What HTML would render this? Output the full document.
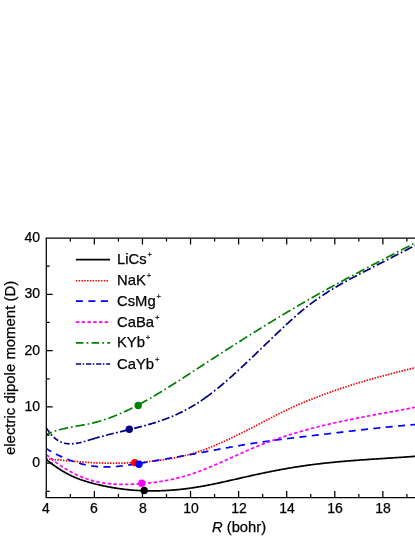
<!DOCTYPE html><html><head><meta charset="utf-8"><title>plot</title><style>
html,body{margin:0;padding:0;background:#fff;}
body{width:415px;height:537px;position:relative;overflow:hidden;font-family:"Liberation Sans",sans-serif;color:#000;}
.t{position:absolute;white-space:nowrap;line-height:1;will-change:transform;-webkit-text-stroke:0.25px #000;}
.yl{font-size:14px;text-align:right;width:30px;}
.xl{font-size:14px;text-align:center;width:30px;}
.lg{font-size:14.8px;}
.lg sup{font-size:7.6px;vertical-align:baseline;position:relative;top:-7.2px;left:0.9px;line-height:0;}
</style></head><body>
<svg width="415" height="537" viewBox="0 0 415 537" style="position:absolute;left:0;top:0">
<defs><clipPath id="c"><rect x="45.70" y="238.00" width="378.70" height="259.50"/></clipPath></defs>
<g clip-path="url(#c)" fill="none" stroke-width="1.70" stroke-linejoin="round">
<path d="M46.30 459.60 L47.30 460.40 L48.30 461.18 L49.30 461.96 L50.30 462.72 L51.30 463.47 L52.30 464.21 L53.30 464.94 L54.30 465.66 L55.30 466.36 L56.30 467.05 L57.30 467.73 L58.30 468.39 L59.30 469.04 L60.30 469.68 L61.30 470.31 L62.30 470.92 L63.30 471.52 L64.30 472.10 L65.30 472.67 L66.30 473.23 L67.30 473.77 L68.30 474.29 L69.30 474.81 L70.30 475.30 L71.30 475.78 L72.30 476.25 L73.30 476.70 L74.30 477.14 L75.30 477.56 L76.30 477.97 L77.30 478.37 L78.30 478.76 L79.30 479.14 L80.30 479.50 L81.30 479.86 L82.30 480.20 L83.30 480.53 L84.30 480.86 L85.30 481.18 L86.30 481.48 L87.30 481.79 L88.30 482.08 L89.30 482.37 L90.30 482.65 L91.30 482.92 L92.30 483.19 L93.30 483.45 L94.30 483.71 L95.30 483.97 L96.30 484.22 L97.30 484.46 L98.30 484.70 L99.30 484.94 L100.30 485.17 L101.30 485.39 L102.30 485.61 L103.30 485.83 L104.30 486.04 L105.30 486.25 L106.30 486.45 L107.30 486.64 L108.30 486.84 L109.30 487.02 L110.30 487.21 L111.30 487.39 L112.30 487.56 L113.30 487.73 L114.30 487.89 L115.30 488.05 L116.30 488.21 L117.30 488.36 L118.30 488.51 L119.30 488.65 L120.30 488.78 L121.30 488.92 L122.30 489.05 L123.30 489.17 L124.30 489.29 L125.30 489.40 L126.30 489.52 L127.30 489.62 L128.30 489.72 L129.30 489.82 L130.30 489.91 L131.30 490.00 L132.30 490.09 L133.30 490.17 L134.30 490.24 L135.30 490.32 L136.30 490.38 L137.30 490.45 L138.30 490.51 L139.30 490.56 L140.30 490.61 L141.30 490.66 L142.30 490.70 L143.30 490.74 L144.30 490.77 L145.30 490.80 L146.30 490.83 L147.30 490.85 L148.30 490.87 L149.30 490.88 L150.30 490.89 L151.30 490.90 L152.30 490.90 L153.30 490.90 L154.30 490.89 L155.30 490.88 L156.30 490.87 L157.30 490.85 L158.30 490.83 L159.30 490.80 L160.30 490.77 L161.30 490.74 L162.30 490.70 L163.30 490.66 L164.30 490.61 L165.30 490.56 L166.30 490.51 L167.30 490.46 L168.30 490.40 L169.30 490.33 L170.30 490.26 L171.30 490.19 L172.30 490.12 L173.30 490.04 L174.30 489.96 L175.30 489.87 L176.30 489.78 L177.30 489.69 L178.30 489.59 L179.30 489.49 L180.30 489.39 L181.30 489.28 L182.30 489.17 L183.30 489.05 L184.30 488.93 L185.30 488.81 L186.30 488.69 L187.30 488.56 L188.30 488.43 L189.30 488.29 L190.30 488.15 L191.30 488.01 L192.30 487.86 L193.30 487.71 L194.30 487.56 L195.30 487.41 L196.30 487.25 L197.30 487.08 L198.30 486.92 L199.30 486.75 L200.30 486.58 L201.30 486.40 L202.30 486.23 L203.30 486.05 L204.30 485.86 L205.30 485.68 L206.30 485.49 L207.30 485.30 L208.30 485.11 L209.30 484.91 L210.30 484.71 L211.30 484.52 L212.30 484.31 L213.30 484.11 L214.30 483.90 L215.30 483.70 L216.30 483.49 L217.30 483.28 L218.30 483.06 L219.30 482.85 L220.30 482.63 L221.30 482.42 L222.30 482.20 L223.30 481.98 L224.30 481.76 L225.30 481.54 L226.30 481.31 L227.30 481.09 L228.30 480.87 L229.30 480.64 L230.30 480.41 L231.30 480.19 L232.30 479.96 L233.30 479.73 L234.30 479.50 L235.30 479.28 L236.30 479.05 L237.30 478.82 L238.30 478.59 L239.30 478.36 L240.30 478.13 L241.30 477.90 L242.30 477.67 L243.30 477.44 L244.30 477.22 L245.30 476.99 L246.30 476.76 L247.30 476.53 L248.30 476.31 L249.30 476.08 L250.30 475.86 L251.30 475.64 L252.30 475.41 L253.30 475.19 L254.30 474.97 L255.30 474.75 L256.30 474.53 L257.30 474.32 L258.30 474.10 L259.30 473.89 L260.30 473.67 L261.30 473.46 L262.30 473.25 L263.30 473.04 L264.30 472.84 L265.30 472.63 L266.30 472.42 L267.30 472.22 L268.30 472.02 L269.30 471.82 L270.30 471.62 L271.30 471.42 L272.30 471.22 L273.30 471.03 L274.30 470.84 L275.30 470.64 L276.30 470.45 L277.30 470.26 L278.30 470.08 L279.30 469.89 L280.30 469.70 L281.30 469.52 L282.30 469.34 L283.30 469.16 L284.30 468.98 L285.30 468.80 L286.30 468.63 L287.30 468.45 L288.30 468.28 L289.30 468.11 L290.30 467.94 L291.30 467.77 L292.30 467.61 L293.30 467.44 L294.30 467.28 L295.30 467.12 L296.30 466.96 L297.30 466.80 L298.30 466.65 L299.30 466.49 L300.30 466.34 L301.30 466.19 L302.30 466.04 L303.30 465.90 L304.30 465.75 L305.30 465.61 L306.30 465.46 L307.30 465.32 L308.30 465.19 L309.30 465.05 L310.30 464.92 L311.30 464.78 L312.30 464.65 L313.30 464.52 L314.30 464.40 L315.30 464.27 L316.30 464.15 L317.30 464.02 L318.30 463.90 L319.30 463.79 L320.30 463.67 L321.30 463.55 L322.30 463.44 L323.30 463.33 L324.30 463.21 L325.30 463.11 L326.30 463.00 L327.30 462.89 L328.30 462.79 L329.30 462.68 L330.30 462.58 L331.30 462.48 L332.30 462.38 L333.30 462.28 L334.30 462.18 L335.30 462.09 L336.30 461.99 L337.30 461.90 L338.30 461.81 L339.30 461.72 L340.30 461.63 L341.30 461.54 L342.30 461.45 L343.30 461.36 L344.30 461.28 L345.30 461.19 L346.30 461.11 L347.30 461.02 L348.30 460.94 L349.30 460.86 L350.30 460.78 L351.30 460.70 L352.30 460.62 L353.30 460.55 L354.30 460.47 L355.30 460.39 L356.30 460.32 L357.30 460.24 L358.30 460.17 L359.30 460.10 L360.30 460.02 L361.30 459.95 L362.30 459.88 L363.30 459.81 L364.30 459.74 L365.30 459.67 L366.30 459.60 L367.30 459.53 L368.30 459.46 L369.30 459.40 L370.30 459.33 L371.30 459.26 L372.30 459.20 L373.30 459.13 L374.30 459.06 L375.30 459.00 L376.30 458.93 L377.30 458.87 L378.30 458.80 L379.30 458.74 L380.30 458.67 L381.30 458.61 L382.30 458.54 L383.30 458.48 L384.30 458.41 L385.30 458.35 L386.30 458.29 L387.30 458.22 L388.30 458.16 L389.30 458.09 L390.30 458.03 L391.30 457.96 L392.30 457.90 L393.30 457.83 L394.30 457.77 L395.30 457.70 L396.30 457.64 L397.30 457.57 L398.30 457.51 L399.30 457.44 L400.30 457.37 L401.30 457.31 L402.30 457.24 L403.30 457.17 L404.30 457.10 L405.30 457.03 L406.30 456.97 L407.30 456.90 L408.30 456.83 L409.30 456.76 L410.30 456.68 L411.30 456.61 L412.30 456.54 L413.30 456.47 L414.30 456.39 L415.30 456.32 L416.30 456.24 L417.30 456.17 L418.30 456.09 L419.30 456.01 L420.30 455.94 L421.30 455.86 L422.30 455.78 L423.30 455.70 L424.30 455.61 L425.00 455.56" stroke="#000000"/>
<path d="M46.30 458.85 L47.30 458.93 L48.30 459.02 L49.30 459.11 L50.30 459.20 L51.30 459.29 L52.30 459.38 L53.30 459.47 L54.30 459.57 L55.30 459.66 L56.30 459.75 L57.30 459.84 L58.30 459.94 L59.30 460.03 L60.30 460.13 L61.30 460.22 L62.30 460.31 L63.30 460.40 L64.30 460.50 L65.30 460.59 L66.30 460.68 L67.30 460.77 L68.30 460.86 L69.30 460.95 L70.30 461.04 L71.30 461.13 L72.30 461.22 L73.30 461.31 L74.30 461.39 L75.30 461.48 L76.30 461.56 L77.30 461.64 L78.30 461.72 L79.30 461.80 L80.30 461.88 L81.30 461.96 L82.30 462.03 L83.30 462.11 L84.30 462.18 L85.30 462.25 L86.30 462.32 L87.30 462.38 L88.30 462.44 L89.30 462.51 L90.30 462.56 L91.30 462.62 L92.30 462.68 L93.30 462.73 L94.30 462.78 L95.30 462.82 L96.30 462.87 L97.30 462.91 L98.30 462.95 L99.30 462.99 L100.30 463.02 L101.30 463.05 L102.30 463.08 L103.30 463.11 L104.30 463.13 L105.30 463.15 L106.30 463.17 L107.30 463.19 L108.30 463.20 L109.30 463.21 L110.30 463.22 L111.30 463.23 L112.30 463.23 L113.30 463.23 L114.30 463.23 L115.30 463.23 L116.30 463.22 L117.30 463.21 L118.30 463.20 L119.30 463.19 L120.30 463.17 L121.30 463.15 L122.30 463.13 L123.30 463.10 L124.30 463.07 L125.30 463.04 L126.30 463.01 L127.30 462.97 L128.30 462.94 L129.30 462.89 L130.30 462.85 L131.30 462.80 L132.30 462.75 L133.30 462.70 L134.30 462.65 L135.30 462.59 L136.30 462.53 L137.30 462.47 L138.30 462.40 L139.30 462.33 L140.30 462.26 L141.30 462.19 L142.30 462.11 L143.30 462.03 L144.30 461.95 L145.30 461.86 L146.30 461.78 L147.30 461.68 L148.30 461.59 L149.30 461.49 L150.30 461.39 L151.30 461.29 L152.30 461.18 L153.30 461.07 L154.30 460.96 L155.30 460.84 L156.30 460.72 L157.30 460.59 L158.30 460.47 L159.30 460.34 L160.30 460.20 L161.30 460.06 L162.30 459.92 L163.30 459.78 L164.30 459.63 L165.30 459.48 L166.30 459.32 L167.30 459.16 L168.30 458.99 L169.30 458.83 L170.30 458.65 L171.30 458.48 L172.30 458.30 L173.30 458.11 L174.30 457.92 L175.30 457.73 L176.30 457.53 L177.30 457.33 L178.30 457.12 L179.30 456.91 L180.30 456.69 L181.30 456.47 L182.30 456.24 L183.30 456.01 L184.30 455.77 L185.30 455.52 L186.30 455.27 L187.30 455.01 L188.30 454.75 L189.30 454.48 L190.30 454.20 L191.30 453.92 L192.30 453.63 L193.30 453.34 L194.30 453.03 L195.30 452.72 L196.30 452.41 L197.30 452.08 L198.30 451.75 L199.30 451.42 L200.30 451.07 L201.30 450.73 L202.30 450.37 L203.30 450.01 L204.30 449.64 L205.30 449.27 L206.30 448.89 L207.30 448.50 L208.30 448.11 L209.30 447.72 L210.30 447.32 L211.30 446.92 L212.30 446.51 L213.30 446.09 L214.30 445.67 L215.30 445.25 L216.30 444.82 L217.30 444.39 L218.30 443.96 L219.30 443.52 L220.30 443.08 L221.30 442.63 L222.30 442.18 L223.30 441.73 L224.30 441.27 L225.30 440.82 L226.30 440.35 L227.30 439.89 L228.30 439.42 L229.30 438.95 L230.30 438.48 L231.30 438.01 L232.30 437.53 L233.30 437.05 L234.30 436.57 L235.30 436.09 L236.30 435.60 L237.30 435.11 L238.30 434.62 L239.30 434.13 L240.30 433.64 L241.30 433.14 L242.30 432.64 L243.30 432.14 L244.30 431.64 L245.30 431.13 L246.30 430.63 L247.30 430.12 L248.30 429.61 L249.30 429.10 L250.30 428.59 L251.30 428.08 L252.30 427.56 L253.30 427.05 L254.30 426.53 L255.30 426.01 L256.30 425.49 L257.30 424.97 L258.30 424.45 L259.30 423.93 L260.30 423.40 L261.30 422.88 L262.30 422.36 L263.30 421.84 L264.30 421.31 L265.30 420.79 L266.30 420.27 L267.30 419.75 L268.30 419.23 L269.30 418.71 L270.30 418.19 L271.30 417.67 L272.30 417.16 L273.30 416.64 L274.30 416.13 L275.30 415.62 L276.30 415.11 L277.30 414.61 L278.30 414.10 L279.30 413.60 L280.30 413.10 L281.30 412.61 L282.30 412.12 L283.30 411.63 L284.30 411.14 L285.30 410.66 L286.30 410.18 L287.30 409.71 L288.30 409.24 L289.30 408.77 L290.30 408.31 L291.30 407.85 L292.30 407.39 L293.30 406.94 L294.30 406.48 L295.30 406.04 L296.30 405.59 L297.30 405.15 L298.30 404.72 L299.30 404.28 L300.30 403.85 L301.30 403.42 L302.30 403.00 L303.30 402.57 L304.30 402.15 L305.30 401.74 L306.30 401.32 L307.30 400.91 L308.30 400.50 L309.30 400.10 L310.30 399.69 L311.30 399.29 L312.30 398.89 L313.30 398.49 L314.30 398.10 L315.30 397.71 L316.30 397.32 L317.30 396.93 L318.30 396.55 L319.30 396.17 L320.30 395.79 L321.30 395.41 L322.30 395.04 L323.30 394.66 L324.30 394.29 L325.30 393.93 L326.30 393.56 L327.30 393.20 L328.30 392.84 L329.30 392.48 L330.30 392.12 L331.30 391.77 L332.30 391.41 L333.30 391.06 L334.30 390.71 L335.30 390.37 L336.30 390.02 L337.30 389.68 L338.30 389.34 L339.30 389.00 L340.30 388.67 L341.30 388.33 L342.30 388.00 L343.30 387.67 L344.30 387.34 L345.30 387.01 L346.30 386.69 L347.30 386.37 L348.30 386.04 L349.30 385.72 L350.30 385.41 L351.30 385.09 L352.30 384.78 L353.30 384.46 L354.30 384.15 L355.30 383.85 L356.30 383.54 L357.30 383.23 L358.30 382.93 L359.30 382.63 L360.30 382.33 L361.30 382.03 L362.30 381.73 L363.30 381.43 L364.30 381.14 L365.30 380.85 L366.30 380.55 L367.30 380.26 L368.30 379.97 L369.30 379.69 L370.30 379.40 L371.30 379.12 L372.30 378.83 L373.30 378.55 L374.30 378.27 L375.30 377.99 L376.30 377.72 L377.30 377.44 L378.30 377.16 L379.30 376.89 L380.30 376.62 L381.30 376.35 L382.30 376.08 L383.30 375.81 L384.30 375.54 L385.30 375.27 L386.30 375.01 L387.30 374.74 L388.30 374.48 L389.30 374.22 L390.30 373.96 L391.30 373.69 L392.30 373.44 L393.30 373.18 L394.30 372.92 L395.30 372.66 L396.30 372.41 L397.30 372.15 L398.30 371.90 L399.30 371.65 L400.30 371.39 L401.30 371.14 L402.30 370.89 L403.30 370.64 L404.30 370.39 L405.30 370.15 L406.30 369.90 L407.30 369.65 L408.30 369.41 L409.30 369.16 L410.30 368.92 L411.30 368.67 L412.30 368.43 L413.30 368.19 L414.30 367.95 L415.30 367.70 L416.30 367.46 L417.30 367.22 L418.30 366.98 L419.30 366.74 L420.30 366.50 L421.30 366.27 L422.30 366.03 L423.30 365.79 L424.30 365.55 L425.00 365.39" stroke="#ff0000" stroke-dasharray="1.5 1.28" stroke-dashoffset="0"/>
<path d="M46.30 448.68 L47.30 449.27 L48.30 449.86 L49.30 450.43 L50.30 450.99 L51.30 451.55 L52.30 452.10 L53.30 452.63 L54.30 453.16 L55.30 453.68 L56.30 454.19 L57.30 454.69 L58.30 455.19 L59.30 455.67 L60.30 456.14 L61.30 456.61 L62.30 457.06 L63.30 457.50 L64.30 457.94 L65.30 458.37 L66.30 458.78 L67.30 459.19 L68.30 459.58 L69.30 459.97 L70.30 460.35 L71.30 460.71 L72.30 461.07 L73.30 461.42 L74.30 461.75 L75.30 462.08 L76.30 462.40 L77.30 462.70 L78.30 463.00 L79.30 463.28 L80.30 463.55 L81.30 463.82 L82.30 464.07 L83.30 464.31 L84.30 464.54 L85.30 464.77 L86.30 464.98 L87.30 465.17 L88.30 465.36 L89.30 465.54 L90.30 465.71 L91.30 465.86 L92.30 466.00 L93.30 466.14 L94.30 466.26 L95.30 466.37 L96.30 466.47 L97.30 466.56 L98.30 466.64 L99.30 466.71 L100.30 466.76 L101.30 466.81 L102.30 466.85 L103.30 466.88 L104.30 466.90 L105.30 466.91 L106.30 466.91 L107.30 466.91 L108.30 466.89 L109.30 466.87 L110.30 466.83 L111.30 466.79 L112.30 466.74 L113.30 466.69 L114.30 466.62 L115.30 466.55 L116.30 466.48 L117.30 466.39 L118.30 466.30 L119.30 466.20 L120.30 466.10 L121.30 465.99 L122.30 465.88 L123.30 465.76 L124.30 465.64 L125.30 465.51 L126.30 465.38 L127.30 465.24 L128.30 465.10 L129.30 464.96 L130.30 464.81 L131.30 464.66 L132.30 464.51 L133.30 464.35 L134.30 464.20 L135.30 464.04 L136.30 463.88 L137.30 463.72 L138.30 463.55 L139.30 463.39 L140.30 463.22 L141.30 463.06 L142.30 462.89 L143.30 462.73 L144.30 462.56 L145.30 462.40 L146.30 462.23 L147.30 462.06 L148.30 461.89 L149.30 461.73 L150.30 461.56 L151.30 461.39 L152.30 461.22 L153.30 461.05 L154.30 460.88 L155.30 460.71 L156.30 460.54 L157.30 460.37 L158.30 460.20 L159.30 460.03 L160.30 459.85 L161.30 459.68 L162.30 459.51 L163.30 459.34 L164.30 459.17 L165.30 458.99 L166.30 458.82 L167.30 458.65 L168.30 458.47 L169.30 458.30 L170.30 458.12 L171.30 457.95 L172.30 457.78 L173.30 457.60 L174.30 457.43 L175.30 457.25 L176.30 457.07 L177.30 456.90 L178.30 456.72 L179.30 456.55 L180.30 456.37 L181.30 456.19 L182.30 456.01 L183.30 455.84 L184.30 455.66 L185.30 455.48 L186.30 455.30 L187.30 455.12 L188.30 454.94 L189.30 454.76 L190.30 454.58 L191.30 454.40 L192.30 454.22 L193.30 454.04 L194.30 453.86 L195.30 453.67 L196.30 453.49 L197.30 453.31 L198.30 453.12 L199.30 452.94 L200.30 452.75 L201.30 452.57 L202.30 452.38 L203.30 452.20 L204.30 452.01 L205.30 451.82 L206.30 451.64 L207.30 451.45 L208.30 451.26 L209.30 451.08 L210.30 450.89 L211.30 450.70 L212.30 450.52 L213.30 450.33 L214.30 450.14 L215.30 449.96 L216.30 449.77 L217.30 449.59 L218.30 449.40 L219.30 449.21 L220.30 449.03 L221.30 448.84 L222.30 448.66 L223.30 448.48 L224.30 448.29 L225.30 448.11 L226.30 447.93 L227.30 447.74 L228.30 447.56 L229.30 447.38 L230.30 447.20 L231.30 447.02 L232.30 446.84 L233.30 446.66 L234.30 446.48 L235.30 446.31 L236.30 446.13 L237.30 445.96 L238.30 445.78 L239.30 445.61 L240.30 445.44 L241.30 445.26 L242.30 445.09 L243.30 444.92 L244.30 444.75 L245.30 444.59 L246.30 444.42 L247.30 444.26 L248.30 444.09 L249.30 443.93 L250.30 443.77 L251.30 443.61 L252.30 443.45 L253.30 443.29 L254.30 443.13 L255.30 442.98 L256.30 442.83 L257.30 442.67 L258.30 442.52 L259.30 442.37 L260.30 442.23 L261.30 442.08 L262.30 441.93 L263.30 441.79 L264.30 441.65 L265.30 441.50 L266.30 441.36 L267.30 441.22 L268.30 441.09 L269.30 440.95 L270.30 440.81 L271.30 440.68 L272.30 440.54 L273.30 440.41 L274.30 440.28 L275.30 440.14 L276.30 440.01 L277.30 439.88 L278.30 439.75 L279.30 439.63 L280.30 439.50 L281.30 439.37 L282.30 439.25 L283.30 439.12 L284.30 439.00 L285.30 438.87 L286.30 438.75 L287.30 438.62 L288.30 438.50 L289.30 438.38 L290.30 438.26 L291.30 438.14 L292.30 438.02 L293.30 437.89 L294.30 437.77 L295.30 437.65 L296.30 437.54 L297.30 437.42 L298.30 437.30 L299.30 437.18 L300.30 437.06 L301.30 436.94 L302.30 436.82 L303.30 436.70 L304.30 436.59 L305.30 436.47 L306.30 436.35 L307.30 436.23 L308.30 436.11 L309.30 436.00 L310.30 435.88 L311.30 435.76 L312.30 435.64 L313.30 435.52 L314.30 435.40 L315.30 435.28 L316.30 435.17 L317.30 435.05 L318.30 434.93 L319.30 434.81 L320.30 434.69 L321.30 434.57 L322.30 434.45 L323.30 434.33 L324.30 434.21 L325.30 434.09 L326.30 433.97 L327.30 433.86 L328.30 433.74 L329.30 433.62 L330.30 433.50 L331.30 433.38 L332.30 433.26 L333.30 433.14 L334.30 433.02 L335.30 432.90 L336.30 432.79 L337.30 432.67 L338.30 432.55 L339.30 432.43 L340.30 432.31 L341.30 432.20 L342.30 432.08 L343.30 431.96 L344.30 431.84 L345.30 431.73 L346.30 431.61 L347.30 431.49 L348.30 431.38 L349.30 431.26 L350.30 431.14 L351.30 431.03 L352.30 430.91 L353.30 430.80 L354.30 430.68 L355.30 430.57 L356.30 430.45 L357.30 430.34 L358.30 430.22 L359.30 430.11 L360.30 430.00 L361.30 429.88 L362.30 429.77 L363.30 429.66 L364.30 429.55 L365.30 429.43 L366.30 429.32 L367.30 429.21 L368.30 429.10 L369.30 428.99 L370.30 428.88 L371.30 428.77 L372.30 428.66 L373.30 428.56 L374.30 428.45 L375.30 428.34 L376.30 428.23 L377.30 428.13 L378.30 428.02 L379.30 427.91 L380.30 427.81 L381.30 427.71 L382.30 427.60 L383.30 427.50 L384.30 427.39 L385.30 427.29 L386.30 427.19 L387.30 427.09 L388.30 426.99 L389.30 426.89 L390.30 426.79 L391.30 426.69 L392.30 426.59 L393.30 426.49 L394.30 426.39 L395.30 426.30 L396.30 426.20 L397.30 426.11 L398.30 426.01 L399.30 425.92 L400.30 425.82 L401.30 425.73 L402.30 425.64 L403.30 425.55 L404.30 425.46 L405.30 425.37 L406.30 425.28 L407.30 425.19 L408.30 425.10 L409.30 425.01 L410.30 424.93 L411.30 424.84 L412.30 424.76 L413.30 424.67 L414.30 424.59 L415.30 424.51 L416.30 424.43 L417.30 424.35 L418.30 424.27 L419.30 424.19 L420.30 424.11 L421.30 424.03 L422.30 423.96 L423.30 423.88 L424.30 423.81 L425.00 423.75" stroke="#0000ff" stroke-dasharray="7 5.4" stroke-dashoffset="1.3"/>
<path d="M46.30 454.54 L47.30 455.40 L48.30 456.26 L49.30 457.10 L50.30 457.92 L51.30 458.74 L52.30 459.53 L53.30 460.32 L54.30 461.09 L55.30 461.84 L56.30 462.59 L57.30 463.32 L58.30 464.03 L59.30 464.73 L60.30 465.42 L61.30 466.09 L62.30 466.75 L63.30 467.40 L64.30 468.04 L65.30 468.66 L66.30 469.27 L67.30 469.86 L68.30 470.44 L69.30 471.01 L70.30 471.56 L71.30 472.11 L72.30 472.64 L73.30 473.15 L74.30 473.66 L75.30 474.15 L76.30 474.63 L77.30 475.09 L78.30 475.54 L79.30 475.98 L80.30 476.41 L81.30 476.83 L82.30 477.23 L83.30 477.62 L84.30 478.00 L85.30 478.37 L86.30 478.72 L87.30 479.06 L88.30 479.39 L89.30 479.71 L90.30 480.02 L91.30 480.31 L92.30 480.59 L93.30 480.86 L94.30 481.12 L95.30 481.37 L96.30 481.60 L97.30 481.83 L98.30 482.04 L99.30 482.25 L100.30 482.44 L101.30 482.62 L102.30 482.79 L103.30 482.96 L104.30 483.11 L105.30 483.25 L106.30 483.39 L107.30 483.51 L108.30 483.63 L109.30 483.73 L110.30 483.83 L111.30 483.92 L112.30 484.00 L113.30 484.08 L114.30 484.14 L115.30 484.20 L116.30 484.25 L117.30 484.30 L118.30 484.33 L119.30 484.36 L120.30 484.38 L121.30 484.40 L122.30 484.41 L123.30 484.41 L124.30 484.41 L125.30 484.40 L126.30 484.39 L127.30 484.37 L128.30 484.34 L129.30 484.31 L130.30 484.28 L131.30 484.24 L132.30 484.20 L133.30 484.15 L134.30 484.10 L135.30 484.04 L136.30 483.98 L137.30 483.92 L138.30 483.85 L139.30 483.78 L140.30 483.71 L141.30 483.64 L142.30 483.56 L143.30 483.48 L144.30 483.39 L145.30 483.30 L146.30 483.21 L147.30 483.12 L148.30 483.02 L149.30 482.92 L150.30 482.81 L151.30 482.70 L152.30 482.59 L153.30 482.47 L154.30 482.35 L155.30 482.22 L156.30 482.09 L157.30 481.95 L158.30 481.81 L159.30 481.67 L160.30 481.52 L161.30 481.37 L162.30 481.21 L163.30 481.04 L164.30 480.87 L165.30 480.70 L166.30 480.51 L167.30 480.33 L168.30 480.14 L169.30 479.94 L170.30 479.73 L171.30 479.53 L172.30 479.31 L173.30 479.09 L174.30 478.86 L175.30 478.63 L176.30 478.39 L177.30 478.14 L178.30 477.89 L179.30 477.64 L180.30 477.37 L181.30 477.10 L182.30 476.83 L183.30 476.55 L184.30 476.26 L185.30 475.97 L186.30 475.68 L187.30 475.37 L188.30 475.06 L189.30 474.75 L190.30 474.43 L191.30 474.10 L192.30 473.77 L193.30 473.44 L194.30 473.09 L195.30 472.75 L196.30 472.39 L197.30 472.03 L198.30 471.67 L199.30 471.30 L200.30 470.92 L201.30 470.54 L202.30 470.16 L203.30 469.77 L204.30 469.38 L205.30 468.98 L206.30 468.58 L207.30 468.18 L208.30 467.77 L209.30 467.36 L210.30 466.94 L211.30 466.52 L212.30 466.10 L213.30 465.67 L214.30 465.25 L215.30 464.81 L216.30 464.38 L217.30 463.95 L218.30 463.51 L219.30 463.07 L220.30 462.63 L221.30 462.18 L222.30 461.74 L223.30 461.29 L224.30 460.84 L225.30 460.39 L226.30 459.94 L227.30 459.49 L228.30 459.04 L229.30 458.59 L230.30 458.13 L231.30 457.68 L232.30 457.23 L233.30 456.77 L234.30 456.32 L235.30 455.87 L236.30 455.41 L237.30 454.96 L238.30 454.51 L239.30 454.06 L240.30 453.61 L241.30 453.16 L242.30 452.72 L243.30 452.27 L244.30 451.83 L245.30 451.39 L246.30 450.95 L247.30 450.51 L248.30 450.07 L249.30 449.64 L250.30 449.21 L251.30 448.78 L252.30 448.36 L253.30 447.94 L254.30 447.52 L255.30 447.10 L256.30 446.69 L257.30 446.28 L258.30 445.88 L259.30 445.48 L260.30 445.08 L261.30 444.68 L262.30 444.29 L263.30 443.90 L264.30 443.52 L265.30 443.13 L266.30 442.75 L267.30 442.38 L268.30 442.01 L269.30 441.64 L270.30 441.27 L271.30 440.91 L272.30 440.55 L273.30 440.19 L274.30 439.83 L275.30 439.48 L276.30 439.13 L277.30 438.79 L278.30 438.44 L279.30 438.10 L280.30 437.77 L281.30 437.43 L282.30 437.10 L283.30 436.77 L284.30 436.44 L285.30 436.12 L286.30 435.80 L287.30 435.48 L288.30 435.16 L289.30 434.85 L290.30 434.54 L291.30 434.23 L292.30 433.92 L293.30 433.62 L294.30 433.32 L295.30 433.02 L296.30 432.72 L297.30 432.43 L298.30 432.14 L299.30 431.85 L300.30 431.56 L301.30 431.28 L302.30 431.00 L303.30 430.72 L304.30 430.44 L305.30 430.16 L306.30 429.89 L307.30 429.62 L308.30 429.35 L309.30 429.08 L310.30 428.81 L311.30 428.55 L312.30 428.29 L313.30 428.03 L314.30 427.77 L315.30 427.51 L316.30 427.26 L317.30 427.01 L318.30 426.76 L319.30 426.51 L320.30 426.26 L321.30 426.01 L322.30 425.77 L323.30 425.53 L324.30 425.29 L325.30 425.05 L326.30 424.81 L327.30 424.58 L328.30 424.35 L329.30 424.11 L330.30 423.88 L331.30 423.65 L332.30 423.43 L333.30 423.20 L334.30 422.98 L335.30 422.75 L336.30 422.53 L337.30 422.31 L338.30 422.09 L339.30 421.87 L340.30 421.66 L341.30 421.44 L342.30 421.23 L343.30 421.01 L344.30 420.80 L345.30 420.59 L346.30 420.38 L347.30 420.17 L348.30 419.97 L349.30 419.76 L350.30 419.56 L351.30 419.35 L352.30 419.15 L353.30 418.95 L354.30 418.75 L355.30 418.55 L356.30 418.35 L357.30 418.15 L358.30 417.95 L359.30 417.75 L360.30 417.56 L361.30 417.36 L362.30 417.17 L363.30 416.97 L364.30 416.78 L365.30 416.59 L366.30 416.40 L367.30 416.21 L368.30 416.02 L369.30 415.83 L370.30 415.64 L371.30 415.45 L372.30 415.26 L373.30 415.07 L374.30 414.89 L375.30 414.70 L376.30 414.51 L377.30 414.33 L378.30 414.14 L379.30 413.96 L380.30 413.77 L381.30 413.59 L382.30 413.40 L383.30 413.22 L384.30 413.03 L385.30 412.85 L386.30 412.67 L387.30 412.48 L388.30 412.30 L389.30 412.12 L390.30 411.93 L391.30 411.75 L392.30 411.57 L393.30 411.39 L394.30 411.20 L395.30 411.02 L396.30 410.84 L397.30 410.65 L398.30 410.47 L399.30 410.29 L400.30 410.10 L401.30 409.92 L402.30 409.74 L403.30 409.55 L404.30 409.37 L405.30 409.18 L406.30 409.00 L407.30 408.81 L408.30 408.63 L409.30 408.44 L410.30 408.25 L411.30 408.07 L412.30 407.88 L413.30 407.69 L414.30 407.50 L415.30 407.31 L416.30 407.12 L417.30 406.93 L418.30 406.74 L419.30 406.55 L420.30 406.36 L421.30 406.17 L422.30 405.97 L423.30 405.78 L424.30 405.58 L425.00 405.45" stroke="#ff00ff" stroke-dasharray="3.5 2.25" stroke-dashoffset="0"/>
<path d="M46.30 434.60 L47.30 434.13 L48.30 433.69 L49.30 433.26 L50.30 432.85 L51.30 432.46 L52.30 432.08 L53.30 431.72 L54.30 431.37 L55.30 431.04 L56.30 430.71 L57.30 430.41 L58.30 430.11 L59.30 429.82 L60.30 429.55 L61.30 429.29 L62.30 429.03 L63.30 428.79 L64.30 428.55 L65.30 428.33 L66.30 428.11 L67.30 427.89 L68.30 427.69 L69.30 427.48 L70.30 427.29 L71.30 427.10 L72.30 426.91 L73.30 426.72 L74.30 426.54 L75.30 426.36 L76.30 426.19 L77.30 426.01 L78.30 425.83 L79.30 425.66 L80.30 425.48 L81.30 425.30 L82.30 425.12 L83.30 424.94 L84.30 424.75 L85.30 424.57 L86.30 424.37 L87.30 424.17 L88.30 423.97 L89.30 423.76 L90.30 423.55 L91.30 423.32 L92.30 423.09 L93.30 422.85 L94.30 422.61 L95.30 422.35 L96.30 422.09 L97.30 421.82 L98.30 421.54 L99.30 421.25 L100.30 420.95 L101.30 420.65 L102.30 420.34 L103.30 420.02 L104.30 419.70 L105.30 419.37 L106.30 419.03 L107.30 418.68 L108.30 418.33 L109.30 417.97 L110.30 417.60 L111.30 417.23 L112.30 416.85 L113.30 416.46 L114.30 416.07 L115.30 415.67 L116.30 415.26 L117.30 414.85 L118.30 414.43 L119.30 414.00 L120.30 413.57 L121.30 413.13 L122.30 412.69 L123.30 412.24 L124.30 411.78 L125.30 411.32 L126.30 410.86 L127.30 410.39 L128.30 409.91 L129.30 409.43 L130.30 408.94 L131.30 408.45 L132.30 407.95 L133.30 407.45 L134.30 406.94 L135.30 406.43 L136.30 405.91 L137.30 405.39 L138.30 404.86 L139.30 404.33 L140.30 403.79 L141.30 403.25 L142.30 402.71 L143.30 402.16 L144.30 401.61 L145.30 401.05 L146.30 400.49 L147.30 399.93 L148.30 399.36 L149.30 398.79 L150.30 398.22 L151.30 397.64 L152.30 397.06 L153.30 396.47 L154.30 395.88 L155.30 395.29 L156.30 394.70 L157.30 394.10 L158.30 393.50 L159.30 392.89 L160.30 392.29 L161.30 391.68 L162.30 391.07 L163.30 390.45 L164.30 389.84 L165.30 389.22 L166.30 388.60 L167.30 387.98 L168.30 387.35 L169.30 386.72 L170.30 386.09 L171.30 385.46 L172.30 384.83 L173.30 384.20 L174.30 383.56 L175.30 382.92 L176.30 382.28 L177.30 381.64 L178.30 381.00 L179.30 380.36 L180.30 379.71 L181.30 379.07 L182.30 378.42 L183.30 377.78 L184.30 377.13 L185.30 376.48 L186.30 375.83 L187.30 375.18 L188.30 374.53 L189.30 373.88 L190.30 373.23 L191.30 372.58 L192.30 371.93 L193.30 371.28 L194.30 370.63 L195.30 369.98 L196.30 369.33 L197.30 368.68 L198.30 368.03 L199.30 367.38 L200.30 366.73 L201.30 366.08 L202.30 365.43 L203.30 364.78 L204.30 364.14 L205.30 363.49 L206.30 362.84 L207.30 362.19 L208.30 361.54 L209.30 360.90 L210.30 360.25 L211.30 359.60 L212.30 358.96 L213.30 358.31 L214.30 357.67 L215.30 357.02 L216.30 356.38 L217.30 355.73 L218.30 355.09 L219.30 354.45 L220.30 353.80 L221.30 353.16 L222.30 352.52 L223.30 351.88 L224.30 351.24 L225.30 350.59 L226.30 349.95 L227.30 349.31 L228.30 348.68 L229.30 348.04 L230.30 347.40 L231.30 346.76 L232.30 346.12 L233.30 345.49 L234.30 344.85 L235.30 344.21 L236.30 343.58 L237.30 342.94 L238.30 342.31 L239.30 341.67 L240.30 341.04 L241.30 340.41 L242.30 339.78 L243.30 339.15 L244.30 338.52 L245.30 337.89 L246.30 337.26 L247.30 336.63 L248.30 336.00 L249.30 335.37 L250.30 334.74 L251.30 334.12 L252.30 333.49 L253.30 332.87 L254.30 332.24 L255.30 331.62 L256.30 331.00 L257.30 330.38 L258.30 329.76 L259.30 329.14 L260.30 328.52 L261.30 327.90 L262.30 327.28 L263.30 326.66 L264.30 326.04 L265.30 325.43 L266.30 324.81 L267.30 324.20 L268.30 323.59 L269.30 322.97 L270.30 322.36 L271.30 321.75 L272.30 321.14 L273.30 320.53 L274.30 319.92 L275.30 319.32 L276.30 318.71 L277.30 318.11 L278.30 317.50 L279.30 316.90 L280.30 316.29 L281.30 315.69 L282.30 315.09 L283.30 314.49 L284.30 313.89 L285.30 313.30 L286.30 312.70 L287.30 312.10 L288.30 311.51 L289.30 310.91 L290.30 310.32 L291.30 309.73 L292.30 309.14 L293.30 308.55 L294.30 307.96 L295.30 307.37 L296.30 306.78 L297.30 306.20 L298.30 305.61 L299.30 305.03 L300.30 304.45 L301.30 303.87 L302.30 303.29 L303.30 302.71 L304.30 302.13 L305.30 301.55 L306.30 300.98 L307.30 300.40 L308.30 299.83 L309.30 299.26 L310.30 298.69 L311.30 298.12 L312.30 297.55 L313.30 296.98 L314.30 296.42 L315.30 295.85 L316.30 295.29 L317.30 294.73 L318.30 294.16 L319.30 293.60 L320.30 293.04 L321.30 292.49 L322.30 291.93 L323.30 291.37 L324.30 290.82 L325.30 290.26 L326.30 289.71 L327.30 289.16 L328.30 288.61 L329.30 288.06 L330.30 287.51 L331.30 286.96 L332.30 286.41 L333.30 285.86 L334.30 285.32 L335.30 284.77 L336.30 284.23 L337.30 283.69 L338.30 283.14 L339.30 282.60 L340.30 282.06 L341.30 281.52 L342.30 280.98 L343.30 280.44 L344.30 279.90 L345.30 279.37 L346.30 278.83 L347.30 278.30 L348.30 277.76 L349.30 277.23 L350.30 276.69 L351.30 276.16 L352.30 275.63 L353.30 275.10 L354.30 274.56 L355.30 274.03 L356.30 273.50 L357.30 272.98 L358.30 272.45 L359.30 271.92 L360.30 271.39 L361.30 270.86 L362.30 270.34 L363.30 269.81 L364.30 269.28 L365.30 268.76 L366.30 268.23 L367.30 267.71 L368.30 267.19 L369.30 266.66 L370.30 266.14 L371.30 265.62 L372.30 265.10 L373.30 264.57 L374.30 264.05 L375.30 263.53 L376.30 263.01 L377.30 262.49 L378.30 261.97 L379.30 261.45 L380.30 260.93 L381.30 260.41 L382.30 259.89 L383.30 259.37 L384.30 258.85 L385.30 258.33 L386.30 257.81 L387.30 257.29 L388.30 256.78 L389.30 256.26 L390.30 255.74 L391.30 255.22 L392.30 254.70 L393.30 254.19 L394.30 253.67 L395.30 253.15 L396.30 252.63 L397.30 252.12 L398.30 251.60 L399.30 251.08 L400.30 250.56 L401.30 250.05 L402.30 249.53 L403.30 249.01 L404.30 248.49 L405.30 247.98 L406.30 247.46 L407.30 246.94 L408.30 246.42 L409.30 245.90 L410.30 245.38 L411.30 244.87 L412.30 244.35 L413.30 243.83 L414.30 243.31 L415.30 242.79 L416.30 242.27 L417.30 241.75 L418.30 241.23 L419.30 240.71 L420.30 240.19 L421.30 239.67 L422.30 239.15 L423.30 238.63 L424.30 238.10 L425.00 237.74" stroke="#008000" stroke-dasharray="9.4 2.9 1.7 2.9" stroke-dashoffset="3.3"/>
<path d="M46.30 427.86 L47.30 429.41 L48.30 430.86 L49.30 432.21 L50.30 433.48 L51.30 434.65 L52.30 435.74 L53.30 436.75 L54.30 437.67 L55.30 438.52 L56.30 439.29 L57.30 439.99 L58.30 440.62 L59.30 441.19 L60.30 441.69 L61.30 442.13 L62.30 442.51 L63.30 442.84 L64.30 443.11 L65.30 443.34 L66.30 443.52 L67.30 443.66 L68.30 443.75 L69.30 443.81 L70.30 443.83 L71.30 443.82 L72.30 443.78 L73.30 443.71 L74.30 443.62 L75.30 443.49 L76.30 443.35 L77.30 443.18 L78.30 442.99 L79.30 442.78 L80.30 442.56 L81.30 442.31 L82.30 442.06 L83.30 441.79 L84.30 441.51 L85.30 441.22 L86.30 440.93 L87.30 440.63 L88.30 440.32 L89.30 440.02 L90.30 439.71 L91.30 439.40 L92.00 439.19" stroke="#000080" stroke-dasharray="5.6 2.3 1.7 2.4" stroke-dashoffset="0"/>
<path d="M92.00 439.19 L93.00 438.89 L94.00 438.59 L95.00 438.30 L96.00 438.01 L97.00 437.72 L98.00 437.44 L99.00 437.16 L100.00 436.88 L101.00 436.61 L102.00 436.34 L103.00 436.08 L104.00 435.81 L105.00 435.55 L106.00 435.29 L107.00 435.03 L108.00 434.78 L109.00 434.53 L110.00 434.28 L111.00 434.03 L112.00 433.78 L113.00 433.53 L114.00 433.29 L115.00 433.04 L116.00 432.80 L117.00 432.56 L118.00 432.32 L119.00 432.08 L120.00 431.84 L121.00 431.60 L122.00 431.36 L123.00 431.12 L124.00 430.88 L125.00 430.64 L126.00 430.40 L127.00 430.16 L128.00 429.92 L129.00 429.67 L130.00 429.43 L131.00 429.18 L132.00 428.94 L133.00 428.69 L134.00 428.44 L135.00 428.19 L136.00 427.94 L137.00 427.68 L138.00 427.43 L139.00 427.17 L140.00 426.91 L141.00 426.64 L142.00 426.38 L143.00 426.11 L144.00 425.83 L145.00 425.56 L146.00 425.28 L147.00 425.00 L148.00 424.71 L149.00 424.42 L150.00 424.13 L151.00 423.83 L152.00 423.53 L153.00 423.23 L154.00 422.92 L155.00 422.60 L156.00 422.28 L157.00 421.96 L158.00 421.63 L159.00 421.30 L160.00 420.96 L161.00 420.61 L162.00 420.26 L163.00 419.91 L164.00 419.54 L165.00 419.18 L166.00 418.80 L167.00 418.42 L168.00 418.04 L169.00 417.64 L170.00 417.24 L171.00 416.84 L172.00 416.42 L173.00 416.00 L174.00 415.58 L175.00 415.14 L176.00 414.70 L177.00 414.25 L178.00 413.79 L179.00 413.32 L180.00 412.85 L181.00 412.37 L182.00 411.88 L183.00 411.38 L184.00 410.87 L185.00 410.35 L186.00 409.83 L187.00 409.29 L188.00 408.75 L189.00 408.20 L190.00 407.63 L191.00 407.06 L192.00 406.48 L193.00 405.89 L194.00 405.28 L195.00 404.67 L196.00 404.05 L197.00 403.42 L198.00 402.77 L199.00 402.12 L200.00 401.46 L201.00 400.78 L202.00 400.10 L203.00 399.41 L204.00 398.71 L205.00 398.00" stroke="#000080" stroke-dasharray="8 2.4 1.7 2.4" stroke-dashoffset="0"/>
<path d="M205.00 398.00 L206.00 397.29 L207.00 396.56 L208.00 395.82 L209.00 395.08 L210.00 394.33 L211.00 393.57 L212.00 392.80 L213.00 392.03 L214.00 391.24 L215.00 390.45 L216.00 389.66 L217.00 388.85 L218.00 388.04 L219.00 387.22 L220.00 386.40 L221.00 385.57 L222.00 384.73 L223.00 383.89 L224.00 383.04 L225.00 382.18 L226.00 381.32 L227.00 380.45 L228.00 379.58 L229.00 378.70 L230.00 377.82 L231.00 376.93 L232.00 376.04 L233.00 375.14 L234.00 374.24 L235.00 373.34 L236.00 372.43 L237.00 371.51 L238.00 370.59 L239.00 369.67 L240.00 368.75 L241.00 367.82 L242.00 366.89 L243.00 365.95 L244.00 365.02 L245.00 364.08 L246.00 363.13 L247.00 362.19 L248.00 361.24 L249.00 360.29 L250.00 359.34 L251.00 358.39 L252.00 357.43 L253.00 356.48 L254.00 355.52 L255.00 354.56 L256.00 353.60 L257.00 352.64 L258.00 351.68 L259.00 350.71 L260.00 349.75 L261.00 348.79 L262.00 347.82 L263.00 346.86 L264.00 345.89 L265.00 344.93 L266.00 343.97 L267.00 343.00 L268.00 342.04 L269.00 341.08 L270.00 340.12 L271.00 339.15 L272.00 338.19 L273.00 337.23 L274.00 336.28 L275.00 335.32 L276.00 334.36 L277.00 333.41 L278.00 332.46 L279.00 331.51 L280.00 330.56 L281.00 329.61 L282.00 328.67 L283.00 327.72 L284.00 326.78 L285.00 325.85 L286.00 324.91 L287.00 323.98 L288.00 323.05 L289.00 322.13 L290.00 321.21 L291.00 320.29 L292.00 319.38 L293.00 318.48 L294.00 317.58 L295.00 316.69 L296.00 315.80 L297.00 314.93 L298.00 314.06 L299.00 313.20 L300.00 312.35 L301.00 311.51 L302.00 310.68 L303.00 309.85 L304.00 309.04 L305.00 308.23 L306.00 307.44 L307.00 306.65 L308.00 305.87 L309.00 305.10 L310.00 304.34 L311.00 303.59 L312.00 302.84 L313.00 302.10 L314.00 301.37 L315.00 300.65 L316.00 299.94 L317.00 299.23 L318.00 298.53 L319.00 297.83 L320.00 297.15 L321.00 296.47 L322.00 295.80 L323.00 295.13 L324.00 294.47 L325.00 293.82 L326.00 293.17 L327.00 292.53 L328.00 291.89 L329.00 291.26 L330.00 290.64 L331.00 290.02 L332.00 289.41 L333.00 288.80 L334.00 288.20 L335.00 287.60 L336.00 287.00 L337.00 286.42 L338.00 285.83 L339.00 285.25 L340.00 284.68 L341.00 284.10 L342.00 283.54 L343.00 282.97 L344.00 282.41 L345.00 281.86 L346.00 281.30 L347.00 280.75 L348.00 280.20 L349.00 279.66 L350.00 279.12 L351.00 278.58 L352.00 278.04 L353.00 277.51 L354.00 276.98 L355.00 276.45 L356.00 275.92 L357.00 275.40 L358.00 274.88 L359.00 274.35 L360.00 273.83 L361.00 273.31 L362.00 272.80 L363.00 272.28 L364.00 271.76 L365.00 271.25 L366.00 270.73 L367.00 270.22 L368.00 269.71 L369.00 269.19 L370.00 268.68 L371.00 268.17 L372.00 267.65 L373.00 267.14 L374.00 266.62 L375.00 266.11 L376.00 265.60 L377.00 265.08 L378.00 264.57 L379.00 264.06 L380.00 263.54 L381.00 263.03 L382.00 262.51 L383.00 262.00 L384.00 261.49 L385.00 260.97 L386.00 260.46 L387.00 259.94 L388.00 259.43 L389.00 258.91 L390.00 258.40 L391.00 257.88 L392.00 257.37 L393.00 256.85 L394.00 256.34 L395.00 255.82 L396.00 255.31 L397.00 254.79 L398.00 254.28 L399.00 253.76 L400.00 253.25 L401.00 252.73 L402.00 252.21 L403.00 251.70 L404.00 251.18 L405.00 250.66 L406.00 250.15 L407.00 249.63 L408.00 249.12 L409.00 248.60 L410.00 248.08 L411.00 247.56 L412.00 247.05 L413.00 246.53 L414.00 246.01 L415.00 245.50 L416.00 244.98 L417.00 244.46 L418.00 243.94 L419.00 243.42 L420.00 242.91 L421.00 242.39 L422.00 241.87 L423.00 241.35 L424.00 240.83 L425.00 240.31" stroke="#000080" stroke-dasharray="8.7 2.6 1.7 2.6" stroke-dashoffset="0"/>
</g>
<circle cx="144.20" cy="490.50" r="3.70" fill="#000000"/>
<circle cx="134.80" cy="462.60" r="3.70" fill="#ff0000"/>
<circle cx="139.00" cy="464.20" r="3.70" fill="#0000ff"/>
<circle cx="141.80" cy="483.20" r="3.70" fill="#ff00ff"/>
<circle cx="138.20" cy="405.50" r="3.70" fill="#008000"/>
<circle cx="129.30" cy="429.30" r="3.70" fill="#000080"/>
<g stroke="#000" stroke-width="1.25" fill="none" stroke-linecap="butt">
<path d="M45.67 238.00 H420"/>
<path d="M45.67 497.50 H420"/>
<path d="M46.30 238.00 V497.50"/>
<path d="M46.30 497.50 v-6.40 M70.34 497.50 v-3.40 M70.34 238.00 v3.40 M94.38 497.50 v-6.40 M94.38 238.00 v6.40 M118.42 497.50 v-3.40 M118.42 238.00 v3.40 M142.46 497.50 v-6.40 M142.46 238.00 v6.40 M166.50 497.50 v-3.40 M166.50 238.00 v3.40 M190.54 497.50 v-6.40 M190.54 238.00 v6.40 M214.58 497.50 v-3.40 M214.58 238.00 v3.40 M238.62 497.50 v-6.40 M238.62 238.00 v6.40 M262.66 497.50 v-3.40 M262.66 238.00 v3.40 M286.70 497.50 v-6.40 M286.70 238.00 v6.40 M310.74 497.50 v-3.40 M310.74 238.00 v3.40 M334.78 497.50 v-6.40 M334.78 238.00 v6.40 M358.82 497.50 v-3.40 M358.82 238.00 v3.40 M382.86 497.50 v-6.40 M382.86 238.00 v6.40 M406.90 497.50 v-3.40 M406.90 238.00 v3.40 M430.94 497.50 v-6.40 M430.94 238.00 v6.40 M46.30 491.35 h3.40 M46.30 463.20 h6.40 M46.30 435.05 h3.40 M46.30 406.90 h6.40 M46.30 378.75 h3.40 M46.30 350.60 h6.40 M46.30 322.45 h3.40 M46.30 294.30 h6.40 M46.30 266.15 h3.40"/>
</g>
<g fill="none" stroke-width="1.70">
<path d="M75.90 259.70 H110.10" stroke="#000000"/>
<path d="M75.90 280.75 H108.30" stroke="#ff0000" stroke-dasharray="1.5 1.28" stroke-dashoffset="0"/>
<path d="M75.90 301.20 H110.10" stroke="#0000ff" stroke-dasharray="7 5.5" stroke-dashoffset="0"/>
<path d="M75.90 322.20 H110.10" stroke="#ff00ff" stroke-dasharray="3.5 2.25" stroke-dashoffset="0"/>
<path d="M75.90 342.90 H110.10" stroke="#008000" stroke-dasharray="7.5 3.2 1.8 3.2" stroke-dashoffset="0"/>
<path d="M75.90 364.00 H110.10" stroke="#000080" stroke-dasharray="5.3 1.5 1.5 1.8" stroke-dashoffset="0"/>
</g>
</svg>
<div class="t yl" style="left:9.8px;top:455.2px">0</div>
<div class="t yl" style="left:9.8px;top:398.9px">10</div>
<div class="t yl" style="left:9.8px;top:342.6px">20</div>
<div class="t yl" style="left:9.8px;top:286.3px">30</div>
<div class="t yl" style="left:9.8px;top:230.0px">40</div>
<div class="t xl" style="left:31.3px;top:501.3px">4</div>
<div class="t xl" style="left:79.4px;top:501.3px">6</div>
<div class="t xl" style="left:127.5px;top:501.3px">8</div>
<div class="t xl" style="left:175.5px;top:501.3px">10</div>
<div class="t xl" style="left:223.6px;top:501.3px">12</div>
<div class="t xl" style="left:271.7px;top:501.3px">14</div>
<div class="t xl" style="left:319.8px;top:501.3px">16</div>
<div class="t xl" style="left:367.9px;top:501.3px">18</div>
<div class="t lg" style="left:117.4px;top:252.2px">LiCs<sup>+</sup></div>
<div class="t lg" style="left:117.4px;top:273.2px">NaK<sup>+</sup></div>
<div class="t lg" style="left:117.4px;top:293.7px">CsMg<sup>+</sup></div>
<div class="t lg" style="left:117.4px;top:314.7px">CaBa<sup>+</sup></div>
<div class="t lg" style="left:117.4px;top:335.4px">KYb<sup>+</sup></div>
<div class="t lg" style="left:117.4px;top:356.5px">CaYb<sup>+</sup></div>
<div class="t" style="font-size:14.75px;left:212.3px;top:519.5px;"><i>R</i> (bohr)</div>
<div class="t" id="yt" style="font-size:14.93px;left:3.1px;top:454.6px;transform-origin:0 0;transform:rotate(-90deg);">electric dipole moment (D)</div>
</body></html>
